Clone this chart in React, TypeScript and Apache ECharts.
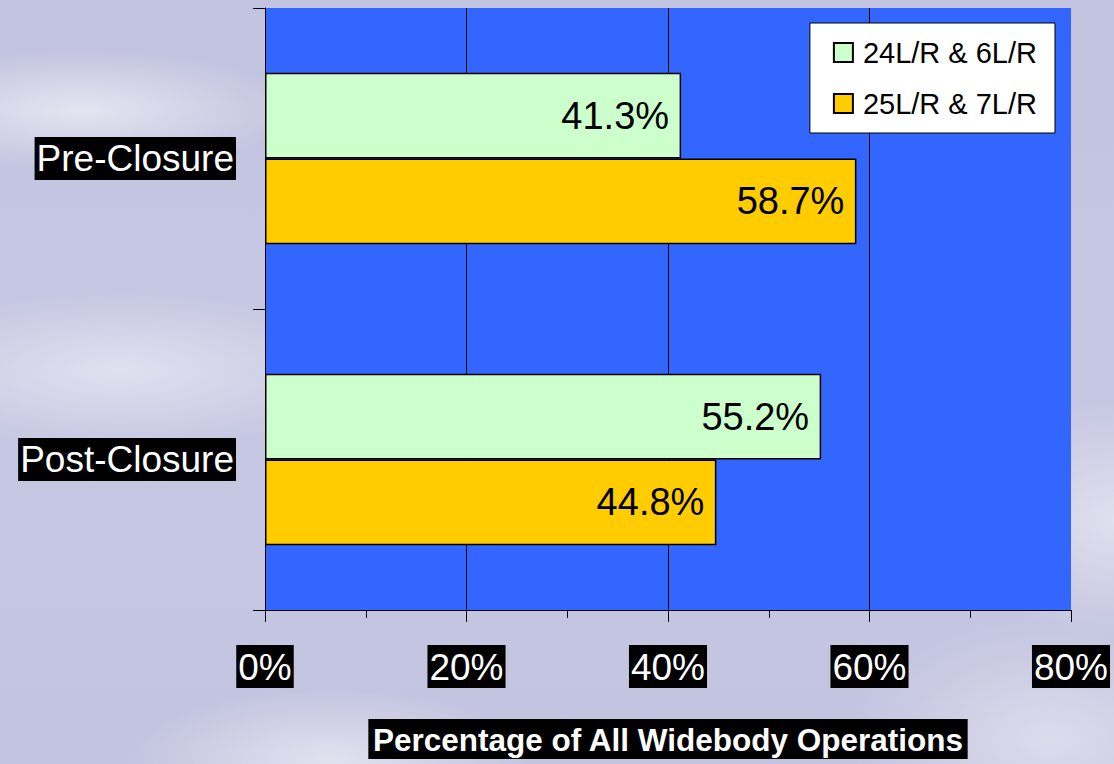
import React, { useEffect, useRef } from "react";
import * as echarts from "echarts";

const categories = ["Pre-Closure", "Post-Closure"];
const seriesNames = ["24L/R & 6L/R", "25L/R & 7L/R"];
const runway24 = [41.3, 55.2];
const runway25 = [58.7, 44.8];
const xTicks = { min: 0, max: 80, interval: 20 };
const axisTitle = "Percentage of All Widebody Operations";

const FONT = "'Liberation Sans', Arial, sans-serif";

export default function App() {
  const ref = useRef<HTMLDivElement>(null);
  useEffect(() => {
    if (!ref.current) return;
    const chart = echarts.init(ref.current, undefined, { renderer: "svg" });
    const labelBox = {
      color: "#fff",
      backgroundColor: "#000",
      fontSize: 37,
      fontFamily: FONT,
      padding: [4, 2, 2, 2],
    };
    const barLabel = {
      show: true,
      position: "insideRight",
      distance: 12,
      formatter: "{c}%",
      color: "#000",
      fontSize: 38,
      fontFamily: FONT,
    };
    chart.setOption({
      animation: false,
      backgroundColor: "transparent",
      textStyle: { fontFamily: FONT },
      grid: {
        left: 265,
        right: 43,
        top: 8,
        bottom: 152,
        show: true,
        backgroundColor: "#3366ff",
        borderWidth: 0,
      },
      legend: {
        orient: "vertical",
        right: 59,
        top: 23,
        backgroundColor: "#fff",
        borderColor: "#000",
        borderWidth: 1,
        padding: [15, 18, 15, 23],
        itemGap: 22,
        itemWidth: 19,
        itemHeight: 19,
        icon: "rect",
        textStyle: { fontSize: 29, color: "#000", fontFamily: FONT, padding: [0, 0, 0, 5] },
        data: seriesNames,
      },
      xAxis: {
        type: "value",
        min: xTicks.min,
        max: xTicks.max,
        interval: xTicks.interval,
        axisLine: { show: true, lineStyle: { color: "#000", width: 1 } },
        axisTick: { show: true, length: 12, lineStyle: { color: "#000" } },
        minorTick: { show: true, splitNumber: 2, length: 8, lineStyle: { color: "#000" } },
        splitLine: {
          show: true,
          lineStyle: { color: ["transparent", "#000", "#000", "#000", "transparent"], width: 1 },
        },
        axisLabel: { ...labelBox, formatter: "{value}%", margin: 35 },
        name: axisTitle,
        nameLocation: "middle",
        nameGap: 109,
        nameTextStyle: {
          color: "#fff",
          backgroundColor: "#000",
          fontSize: 31.5,
          fontWeight: "bold",
          fontFamily: FONT,
          padding: [5, 4, 3, 4],
        },
      },
      yAxis: {
        type: "category",
        inverse: true,
        data: categories,
        axisLine: { show: true, lineStyle: { color: "#000", width: 1 } },
        axisTick: { show: true, length: 12, lineStyle: { color: "#000" } },
        axisLabel: { ...labelBox, margin: 29 },
      },
      series: [
        {
          name: seriesNames[0],
          type: "bar",
          data: runway24,
          barGap: "0%",
          barCategoryGap: "43%",
          itemStyle: { color: "#ccffcc", borderColor: "#000", borderWidth: 1.5 },
          label: barLabel,
        },
        {
          name: seriesNames[1],
          type: "bar",
          data: runway25,
          barGap: "0%",
          barCategoryGap: "43%",
          itemStyle: { color: "#ffcc00", borderColor: "#000", borderWidth: 1.5 },
          label: barLabel,
        },
      ],
    });
    return () => chart.dispose();
  }, []);

  const bg =
    "radial-gradient(ellipse 220px 60px at 80px 110px, rgba(255,255,255,0.55), rgba(255,255,255,0) 100%)," +
    "radial-gradient(ellipse 260px 80px at 120px 370px, rgba(255,255,255,0.45), rgba(255,255,255,0) 100%)," +
    "radial-gradient(ellipse 200px 70px at 330px 760px, rgba(255,255,255,0.5), rgba(255,255,255,0) 100%)," +
    "radial-gradient(ellipse 160px 120px at 1114px 520px, rgba(255,255,255,0.45), rgba(255,255,255,0) 100%)," +
    "radial-gradient(ellipse 200px 120px at 1050px 740px, rgba(255,255,255,0.4), rgba(255,255,255,0) 100%)," +
    "linear-gradient(180deg, #c2c3de 0%, #c6c7e2 50%, #c3c4df 100%)";

  return (
    <div
      style={{
        position: "fixed",
        left: 0,
        top: 0,
        width: 1114,
        height: 764,
        background: bg,
      }}
    >
      <div ref={ref} style={{ width: 1114, height: 764 }} />
    </div>
  );
}
